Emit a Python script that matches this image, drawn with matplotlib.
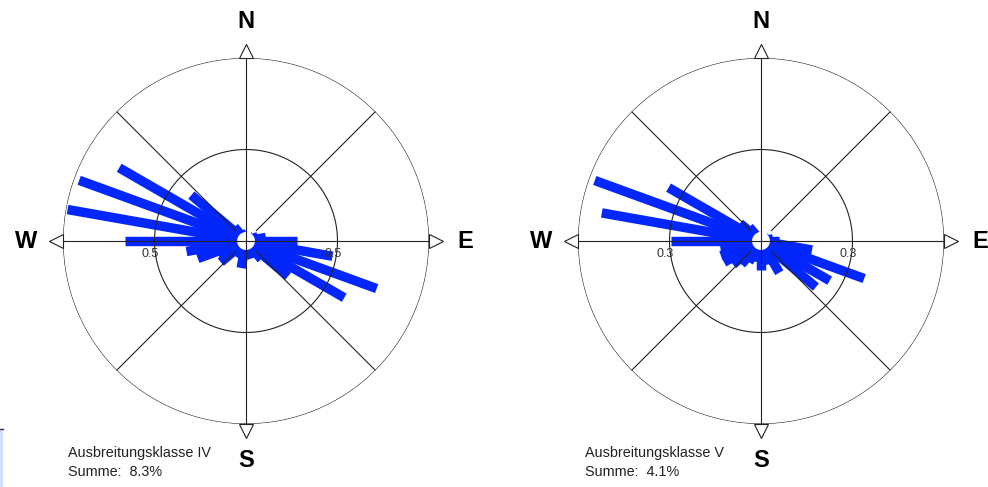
import numpy as np
import matplotlib
matplotlib.use('Agg')
import matplotlib.pyplot as plt
from matplotlib.patches import Rectangle

plt.rcParams['font.family'] = ['Liberation Sans', 'DejaVu Sans']

# wind directions (degrees, clockwise from north)
directions = [0, 10, 20, 30, 40, 50, 60, 70, 80, 90, 100, 110,
              120, 130, 140, 150, 160, 170, 180, 190, 200, 210, 220, 230,
              240, 250, 260, 270, 280, 290, 300, 310, 320, 330, 340, 350]

# frequencies, class IV (left rose)
freq_iv = [0.03, 0.03, 0.03, 0.03, 0.03, 0.04, 0.05, 0.07, 0.11, 0.28, 0.48, 0.76,
           0.62, 0.30, 0.13, 0.09, 0.10, 0.07, 0.08, 0.15, 0.09, 0.10, 0.10, 0.18,
           0.17, 0.28, 0.33, 0.66, 0.99, 0.97, 0.80, 0.39, 0.10, 0.06, 0.04, 0.03]

# frequencies, class V (right rose)
freq_v = [0.02, 0.02, 0.02, 0.02, 0.02, 0.02, 0.02, 0.03, 0.04, 0.06, 0.17, 0.36,
          0.26, 0.235, 0.07, 0.12, 0.07, 0.08, 0.095, 0.07, 0.05, 0.08, 0.10, 0.12,
          0.14, 0.14, 0.135, 0.295, 0.53, 0.58, 0.35, 0.09, 0.06, 0.02, 0.02, 0.02]

ring_labels = ['0.5', '0.3']
rmax_values = [1.0, 0.6]
titles = ['Ausbreitungsklasse IV', 'Ausbreitungsklasse V']
sums = ['Summe:  8.3%', 'Summe:  4.1%']

W, H = 988, 487
BLUE = '#0326fb'
LINE = '#222222'

fig = plt.figure(figsize=(W / 100, H / 100), dpi=100)


def draw_rose(cx, cy, values, rmax, ring_label, title, total, text_x):
    R = 183
    ax = fig.add_axes([(cx - R) / W, (H - cy - R) / H, 2 * R / W, 2 * R / H],
                      projection='polar')
    ax.set_theta_zero_location('N')
    ax.set_theta_direction(-1)
    ax.set_ylim(0, rmax)
    ax.axis('off')

    r0 = 0.045 * rmax
    circ = np.linspace(0, 2 * np.pi, 361)

    # bars
    for d, v in zip(directions, values):
        if v <= r0:
            continue
        t = np.deg2rad(d)
        ax.plot([t, t], [r0, v], color=BLUE, lw=6.8, solid_capstyle='butt', zorder=2)

    # hollow centre
    ax.fill(circ, np.full_like(circ, r0), color='white', zorder=3)

    # rings
    ax.plot(circ, np.full_like(circ, rmax), color=LINE, lw=0.8, zorder=4)
    ax.plot(circ, np.full_like(circ, rmax / 2), color=LINE, lw=0.8, zorder=4)

    # main axes through the centre, out to the arrows
    for d in [0, 90, 180, 270]:
        t = np.deg2rad(d)
        ax.plot([t, t], [0, rmax * 1.07], color=LINE, lw=0.8, zorder=4, clip_on=False)
    for d in [45, 135, 225, 315]:
        t = np.deg2rad(d)
        ax.plot([t, t], [0.08 * rmax, rmax], color=LINE, lw=0.8, zorder=4)

    # arrow heads and compass letters
    for d, mk, lab in [(0, '^', 'N'), (90, '>', 'E'), (180, 'v', 'S'), (270, '<', 'W')]:
        t = np.deg2rad(d)
        ax.plot([t], [rmax * 1.04], marker=mk, ms=10, mfc='white', mec=LINE,
                mew=0.8, zorder=5, clip_on=False)
        ax.text(t, rmax * 1.2, lab, ha='center', va='center', fontsize=17,
                fontweight='bold', clip_on=False)

    # ring value labels
    for d in [270, 90]:
        ax.annotate(ring_label, xy=(np.deg2rad(d), rmax / 2), xytext=(-3, -5),
                    textcoords='offset points', ha='center', va='top',
                    fontsize=9, color='#333333', zorder=6)

    fig.text(text_x / W, 1 - 453 / H, title, fontsize=10.4, va='center', ha='left',
             color='#222222')
    fig.text(text_x / W, 1 - 472 / H, total, fontsize=10.4, va='center', ha='left',
             color='#222222')


draw_rose(246, 241, freq_iv, rmax_values[0], ring_labels[0], titles[0], sums[0], 68)
draw_rose(761, 241, freq_v, rmax_values[1], ring_labels[1], titles[1], sums[1], 585)

# cut-off box at the lower left edge
fig.patches.append(Rectangle((0, 0), 3 / W, 58 / H, transform=fig.transFigure,
                             facecolor='#d4dcff', edgecolor='none'))
fig.lines.append(plt.Line2D([0, 3 / W], [58 / H, 58 / H], transform=fig.transFigure,
                            color='#333333', lw=1))

fig.savefig('out.png', dpi=100)
